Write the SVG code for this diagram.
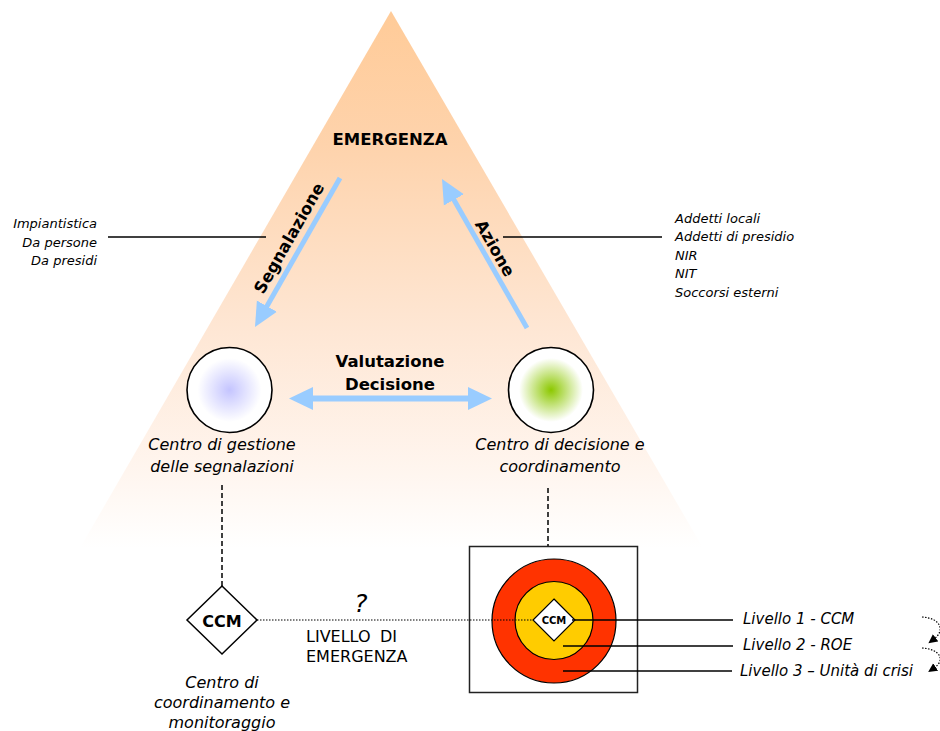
<svg xmlns="http://www.w3.org/2000/svg" width="940" height="731" viewBox="0 0 940 731">
<defs>
<linearGradient id="triGrad" x1="0" y1="11" x2="0" y2="548" gradientUnits="userSpaceOnUse">
<stop offset="0" stop-color="#FFCB98"/>
<stop offset="0.25" stop-color="#FED3AC"/>
<stop offset="0.6" stop-color="#FEE7D5"/>
<stop offset="0.85" stop-color="#FFF5EE"/>
<stop offset="1" stop-color="#FFFFFF"/>
</linearGradient>
<radialGradient id="blueGrad" cx="0.5" cy="0.5" r="0.5">
<stop offset="0" stop-color="#C4C4FF"/>
<stop offset="0.75" stop-color="#FFFFFF"/>
<stop offset="1" stop-color="#FFFFFF"/>
</radialGradient>
<radialGradient id="greenGrad" cx="0.5" cy="0.5" r="0.5">
<stop offset="0" stop-color="#8CC800"/>
<stop offset="0.75" stop-color="#FFFFFF"/>
<stop offset="1" stop-color="#FFFFFF"/>
</radialGradient>
<marker id="blueHead" viewBox="0 -12 26 24" refX="2" refY="0" markerWidth="26" markerHeight="24" markerUnits="userSpaceOnUse" orient="auto-start-reverse">
<path d="M0,-11.5 L24,0 L0,11.5 Z" fill="#99CCFF"/>
</marker>
<marker id="blackHead" viewBox="0 -5 10 10" refX="2" refY="0" markerWidth="10" markerHeight="10" markerUnits="userSpaceOnUse" orient="auto">
<path d="M0,-4.5 L9,0 L0,4.5 Z" fill="#000"/>
</marker>
</defs>
<style>
text { font-family: "DejaVu Sans", Verdana, sans-serif; fill: #000; }
.b { font-weight: bold; }
.it { font-style: italic; }
.big { font-size: 16.5px; }
.lab { font-size: 16px; font-style: italic; }
.sm { font-size: 13px; font-style: italic; }
.lvl { font-size: 15px; font-style: italic; }
.blue { stroke: #99CCFF; fill: none; }
.lead { stroke: #000; stroke-width: 1.5; fill: none; }
.dash { stroke: #000; stroke-width: 1.5; stroke-dasharray: 5 3; fill: none; }
.dot { stroke: #000; stroke-width: 1.2; stroke-dasharray: 1.5 1.5; fill: none; }
</style>

<g id="triangle">
<polygon points="391,11 80,548 703,548" fill="url(#triGrad)"/>
<text class="b big" x="390" y="145" text-anchor="middle">EMERGENZA</text>
</g>

<g id="sources">
<text class="sm" x="97" y="228" text-anchor="end">Impiantistica</text>
<text class="sm" x="97" y="246.5" text-anchor="end">Da persone</text>
<text class="sm" x="97" y="264.5" text-anchor="end">Da presidi</text>
</g>

<g id="actors">
<text class="sm" x="675" y="222.5">Addetti locali</text>
<text class="sm" x="675" y="241">Addetti di presidio</text>
<text class="sm" x="675" y="259.5">NIR</text>
<text class="sm" x="675" y="278">NIT</text>
<text class="sm" x="675" y="296.5">Soccorsi esterni</text>
</g>

<g id="centro-gestione">
<circle cx="229.5" cy="390" r="42.5" fill="url(#blueGrad)" stroke="#000" stroke-width="1.6"/>
<text class="lab" x="222" y="450" text-anchor="middle">Centro di gestione</text>
<text class="lab" x="222" y="472" text-anchor="middle">delle segnalazioni</text>
</g>

<g id="centro-decisione">
<circle cx="551" cy="390" r="42.5" fill="url(#greenGrad)" stroke="#000" stroke-width="1.6"/>
<text class="lab" x="560" y="450" text-anchor="middle">Centro di decisione e</text>
<text class="lab" x="560" y="472" text-anchor="middle">coordinamento</text>
</g>

<g id="ccm">
<polygon points="222,586 257,620 222,654 187,620" fill="#fff" stroke="#000" stroke-width="1.5"/>
<text class="b" x="222" y="626.5" text-anchor="middle" font-size="16">CCM</text>
<text class="lab" x="222" y="688" text-anchor="middle">Centro di</text>
<text class="lab" x="222" y="708" text-anchor="middle">coordinamento e</text>
<text class="lab" x="222" y="728" text-anchor="middle">monitoraggio</text>
</g>

<g id="livelli">
<rect x="469.5" y="546.5" width="168" height="146" fill="#fff" stroke="#222" stroke-width="1.5"/>
<circle cx="554" cy="621" r="62" fill="#FF3300" stroke="#000" stroke-width="1.2"/>
<circle cx="554" cy="620.5" r="39" fill="#FFCC00" stroke="#000" stroke-width="1.2"/>
<polygon points="554,599 575,620 554,641 533,620" fill="#fff" stroke="#000" stroke-width="1.2"/>
<text class="b" x="554" y="623.5" text-anchor="middle" font-size="10">CCM</text>
</g>

<g id="level-labels">
<text class="lvl" x="743" y="624">Livello 1 - CCM</text>
<text class="lvl" x="743" y="650">Livello 2 - ROE</text>
<text class="lvl" x="740" y="675.5">Livello 3 – Unità di crisi</text>
</g>

<g id="connectors">
<line class="blue" x1="340" y1="178" x2="265.9" y2="307.9" stroke-width="5" marker-end="url(#blueHead)"/>
<line class="blue" x1="527" y1="328" x2="452.9" y2="198.1" stroke-width="5" marker-end="url(#blueHead)"/>
<line class="blue" x1="311" y1="398.5" x2="470" y2="398.5" stroke-width="6" marker-start="url(#blueHead)" marker-end="url(#blueHead)"/>
<line class="lead" x1="108" y1="237" x2="266" y2="237"/>
<line class="lead" x1="503" y1="237" x2="662" y2="237"/>
<line class="dash" x1="222" y1="485" x2="222" y2="586"/>
<line class="dash" x1="548" y1="488" x2="548" y2="546"/>
<line class="dot" x1="257" y1="620" x2="533" y2="620"/>
<line class="lead" x1="572" y1="620" x2="733" y2="620"/>
<line class="lead" x1="563" y1="646" x2="733" y2="646"/>
<line class="lead" x1="563" y1="671" x2="732" y2="671"/>
<path class="dot" d="M922,617 C940,618 946,630 934,639" marker-end="url(#blackHead)"/>
<path class="dot" d="M922,648 C940,649 946,660 934,668" marker-end="url(#blackHead)"/>
<text class="b big" x="294" y="241" text-anchor="middle" transform="rotate(-60.3 294 241)">Segnalazione</text>
<text class="b big" x="490" y="251" text-anchor="middle" transform="rotate(60.3 490 251)">Azione</text>
<text class="b big" x="390" y="366.5" text-anchor="middle">Valutazione</text>
<text class="b big" x="390" y="390" text-anchor="middle">Decisione</text>
<text class="it" x="361" y="612" text-anchor="middle" font-size="25">?</text>
<text font-size="16" x="306" y="642">LIVELLO<tspan x="380">DI</tspan></text>
<text font-size="16" x="306" y="662">EMERGENZA</text>
</g>
</svg>
